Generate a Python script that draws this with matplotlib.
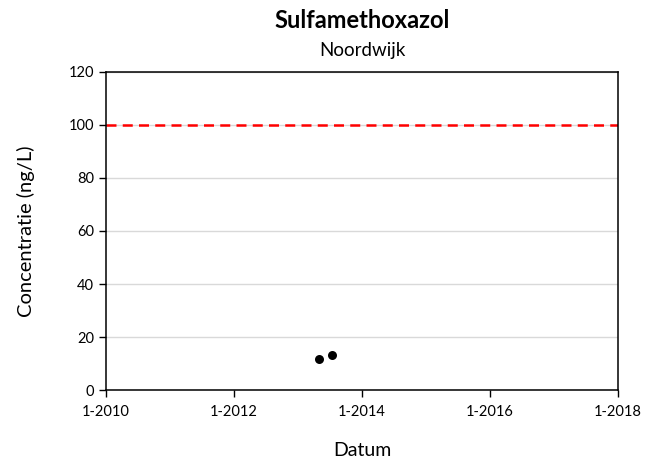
import matplotlib
matplotlib.use("Agg")
import matplotlib.pyplot as plt
import matplotlib.dates as mdates
import numpy as np
from datetime import datetime

plt.rcParams['font.family'] = ['Lato', 'DejaVu Sans']

# Measurements
dates = [datetime(2013, 5, 1), datetime(2013, 7, 15)]
values = [11.7, 13.2]
norm_value = 100
y_ticks = [0, 20, 40, 60, 80, 100, 120]
x_tick_years = [2010, 2012, 2014, 2016, 2018]

fig = plt.figure(figsize=(6.57, 4.62), dpi=100)
ax = fig.add_axes([0.1613, 0.1558, 0.7793, 0.6884])

ax.scatter(dates, values, s=42, color='black', zorder=3, linewidths=0)
ax.axhline(norm_value, color='#ff0000', linestyle=(0, (4, 2.5)), linewidth=1.8, zorder=2)

ax.set_ylim(0, 120)
ax.set_yticks(y_ticks)
ax.set_xlim(datetime(2010, 1, 1), datetime(2018, 1, 1))
ax.set_xticks([datetime(y, 1, 1) for y in x_tick_years])
ax.xaxis.set_major_formatter(mdates.DateFormatter('1-%Y'))

ax.yaxis.grid(True, color='#d9d9d9', linewidth=1)
ax.set_axisbelow(True)
for s in ax.spines.values():
    s.set_color('black')
    s.set_linewidth(1.1)
ax.tick_params(axis='both', direction='out', length=5, width=1, labelsize=10.5, color='black')
ax.tick_params(axis='x', pad=6)

ax.set_xlabel('Datum', fontsize=14, labelpad=16)
ax.set_ylabel('Concentratie (ng/L)', fontsize=14.5, labelpad=24)

fig.text(0.551, 0.955, 'Sulfamethoxazol', ha='center', va='center', fontsize=17, fontweight='bold')
fig.text(0.551, 0.89, 'Noordwijk', ha='center', va='center', fontsize=13.5)

fig.savefig('out.png', dpi=100)
